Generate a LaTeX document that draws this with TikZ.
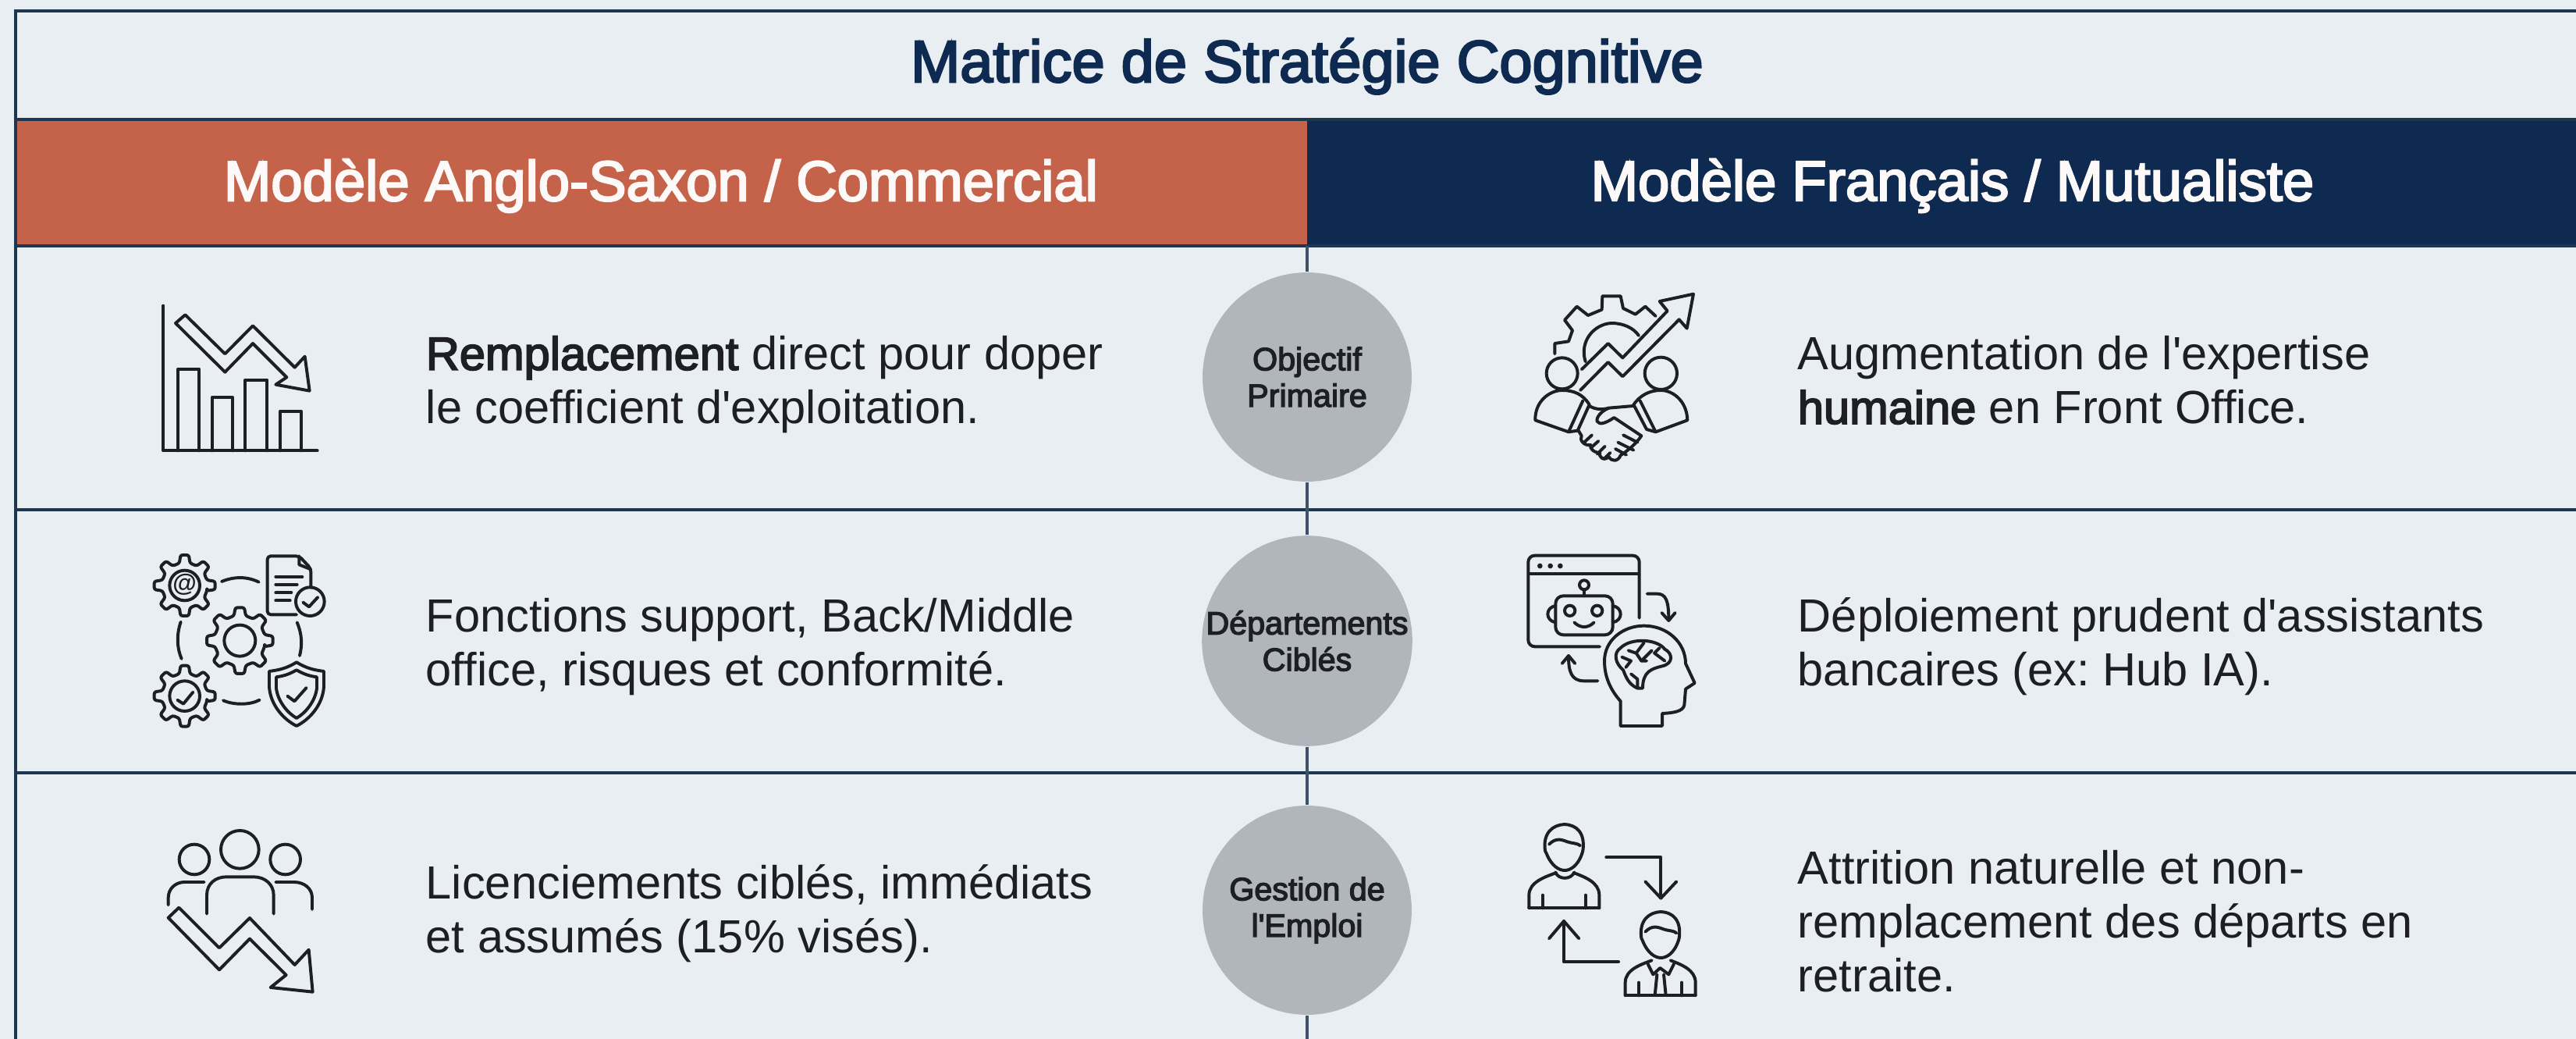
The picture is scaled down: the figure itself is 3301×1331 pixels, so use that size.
\documentclass[tikz,border=0pt]{standalone}
\usepackage{fontspec}
\setmainfont{Liberation Sans}
\newfontfamily\semib[FakeBold=3.2]{Liberation Sans}
\newfontfamily\medb[FakeBold=3]{Liberation Sans}
\definecolor{bgc}{HTML}{E9EEF2}
\definecolor{navy}{HTML}{0E2A50}
\definecolor{rust}{HTML}{C4634A}
\definecolor{rulec}{HTML}{1F3650}
\definecolor{disc}{HTML}{B1B6BC}
\definecolor{ink}{HTML}{1D1F22}
\tikzset{
  framerule/.style={draw=rulec,line width=0.85pt},
  rowrule/.style={draw=rulec,line width=0.75pt},
  spine/.style={draw=rulec!85!bgc,line width=0.95pt},
  titletext/.style={font=\fontsize{18.2}{20}\selectfont\semib,text=navy,inner sep=0pt},
  headtext/.style={font=\fontsize{17.4}{20}\selectfont\semib,text=white!96!rust,inner sep=0pt},
  bodytext/.style={font=\fontsize{14.3}{16.6}\selectfont\frenchspacing,text=ink,inner sep=0pt,anchor=west,align=left},
  discnode/.style={circle,fill=disc,minimum size=64.3pt,inner sep=0pt,align=center,text=ink,font=\fontsize{9.9}{11.2}\selectfont\semib},
  iconline/.style={draw=ink,line width=0.95pt,line join=round,line cap=round},
  iconzone/.style={shift={#1},x=0.08pt,y=-0.08pt}
}
\newcommand{\gearshape}[5]{%
  \pgfmathsetmacro{\gst}{360/#5}%
  \draw[iconline,rounded corners=0.6pt,shift={(#1,#2)}] ({.3*\gst}:#4)
    \foreach \i in {1,...,#5}{ -- ({(\i-.3)*\gst}:#4) -- ({(\i-.17)*\gst}:#3) -- ({(\i+.17)*\gst}:#3) -- ({(\i+.3)*\gst}:#4)} -- cycle;}
\newcommand{\headbust}[2]{%
  \begin{scope}[shift={(#1,#2)}]
  \draw[iconline] (150,150) .. controls (140,80) and (180,50) .. (225,48) .. controls (270,50) and (305,80) .. (295,150);
  \draw[iconline] (165,125) .. controls (190,100) and (210,105) .. (235,115) .. controls (255,122) and (275,120) .. (285,130);
  \draw[iconline] (155,160) .. controls (175,210) and (205,225) .. (225,225) .. controls (245,225) and (275,210) .. (292,160);
  \draw[iconline] (150,150) -- (155,160) (295,150) -- (292,160);
  \draw[iconline] (88,370) -- (88,320) .. controls (88,270) and (150,250) .. (190,235);
  \draw[iconline] (262,235) .. controls (300,250) and (358,270) .. (358,320) -- (358,370);
  \draw[iconline] (88,370) -- (358,370) (140,320) -- (140,370) (305,320) -- (305,370);
  \end{scope}}
\begin{document}
\begin{tikzpicture}[x=0.24pt,y=-0.24pt]
\useasboundingbox (0,0) rectangle (3301,1331);
\fill[bgc] (0,0) rectangle (3301,1331);
% headers
\fill[rust] (20,153) rectangle (1675,315);
\fill[navy] (1675,153) rectangle (3301,315);
% frame
\draw[framerule] (3301,14) -- (20,14) -- (20,1331);
\draw[framerule] (20,153) -- (3301,153);
\draw[framerule] (20,315) -- (3301,315);
\draw[rowrule] (20,653) -- (3301,653);
\draw[rowrule] (20,990) -- (3301,990);
% title and headers
\node[titletext] (title) at (1675,85) {Matrice de Stratégie Cognitive};
\node[headtext] (headL) at (847,238) {Modèle Anglo-Saxon / Commercial};
\node[headtext] (headR) at (2502,238) {Modèle Français / Mutualiste};
% centre discs and spine
\coordinate (spinetop) at (1675,315);
\coordinate (spinebot) at (1675,1331);
\node[discnode] (d1) at (1675,483) {Objectif\\Primaire};
\node[discnode] (d2) at (1675,821) {Départements\\Ciblés};
\node[discnode] (d3) at (1675,1166) {Gestion de\\l\textquotesingle Emploi};
\draw[spine] (spinetop) -- (d1);
\draw[spine] (d1) -- (d2);
\draw[spine] (d2) -- (d3);
\draw[spine] (d3) -- (spinebot);
% body text
\node[bodytext] (t1l) at (545,493) {{\medb Remplacement} direct pour doper\\le coefficient d\textquotesingle exploitation.};
\node[bodytext] (t2l) at (545,829) {Fonctions support, Back/Middle\\office, risques et conformité.};
\node[bodytext] (t3l) at (545,1170) {Licenciements ciblés, immédiats\\et assumés (15\% visés).};
\node[bodytext] (t1r) at (2303,487) {Augmentation de l\textquotesingle expertise\\{\medb humaine} en Front Office.};
\node[bodytext] (t2r) at (2303,828) {Déploiement prudent d\textquotesingle assistants\\bancaires (ex: Hub IA).};
\node[bodytext] (t3r) at (2303,1180) {Attrition naturelle et non-\\remplacement des départs en\\retraite.};
% icon 1: falling bars
\begin{scope}[iconzone={(150,340)}]
\draw[iconline] (178,155) -- (178,712) -- (770,712);
\draw[iconline] (235,712) -- (235,398) -- (315,398) -- (315,712);
\draw[iconline] (365,712) -- (365,508) -- (445,508) -- (445,712);
\draw[iconline] (493,712) -- (493,440) -- (577,440) -- (577,712);
\draw[iconline] (627,712) -- (627,560) -- (707,560) -- (707,712);
\draw[iconline] (225,222) -- (262,190) -- (415,340) -- (522,232) -- (683,392) -- (722,350) -- (740,482) -- (610,458) -- (652,430) -- (522,300) -- (415,410) -- cycle;
\end{scope}
% icon 2: gears, document, shield
\begin{scope}[iconzone={(150,680)}]
\gearshape{260}{210}{118}{88}{8}
\gearshape{472}{422}{128}{98}{8}
\gearshape{260}{635}{118}{88}{8}
\draw[iconline] (260,210) circle (58);
\draw[iconline] (472,422) circle (60);
\draw[iconline] (260,635) circle (58);
\node[font=\fontsize{7.5}{8}\selectfont\bfseries,text=ink,inner sep=0pt] (at) at (260,208) {@};
\draw[iconline] (232,650) -- (255,665) -- (292,620);
\draw[iconline] (402,195) .. controls (450,175) and (500,175) .. (545,197);
\draw[iconline] (245,350) .. controls (228,400) and (230,450) .. (248,492);
\draw[iconline] (692,352) .. controls (712,400) and (712,440) .. (702,480);
\draw[iconline] (408,652) .. controls (450,670) and (510,670) .. (548,650);
\draw[iconline,rounded corners=1pt] (690,322) -- (578,322) -- (578,97) -- (700,97) -- (745,145) -- (745,218);
\draw[iconline] (700,97) -- (700,130) -- (745,148);
\draw[iconline] (610,177) -- (712,177) (610,207) -- (692,207) (610,238) -- (670,238) (610,268) -- (665,268);
\draw[iconline] (742,272) circle (55);
\draw[iconline] (715,275) -- (738,292) -- (772,255);
\draw[iconline] (690,505) .. controls (650,530) and (620,535) .. (585,540) -- (585,600) .. controls (590,670) and (640,725) .. (690,750) .. controls (740,725) and (790,670) .. (795,600) -- (795,540) .. controls (760,535) and (730,530) .. (690,505) -- cycle;
\draw[iconline] (690,535) .. controls (660,552) and (640,558) .. (612,562) -- (612,605) .. controls (618,655) and (655,700) .. (690,720) .. controls (725,700) and (762,655) .. (768,605) -- (768,562) .. controls (740,558) and (720,552) .. (690,535) -- cycle;
\draw[iconline] (655,635) -- (682,655) -- (728,603);
\end{scope}
% icon 3: staff and falling arrow
\begin{scope}[iconzone={(150,1030)}]
\draw[iconline] (472,175) circle (73);
\draw[iconline] (297,213) circle (58);
\draw[iconline] (647,213) circle (58);
\draw[iconline] (345,422) -- (345,350) .. controls (345,305) and (380,280) .. (420,280) -- (525,280) .. controls (570,280) and (602,310) .. (602,350) -- (602,422);
\draw[iconline] (197,388) -- (197,360) .. controls (197,325) and (225,300) .. (260,300) -- (335,300);
\draw[iconline] (610,300) -- (680,300) .. controls (720,300) and (750,325) .. (750,360) -- (750,405);
\draw[iconline] (197,437) -- (238,398) -- (393,553) -- (510,438) -- (683,618) -- (737,560) -- (752,722) -- (590,705) -- (650,657) -- (510,518) -- (393,637) -- cycle;
\end{scope}
% icon 4: handshake, gear and rising arrow
\begin{scope}[iconzone={(1930,350)}]
\draw[iconline] (187,310) -- (187,270) -- (240,262) -- (255,220) -- (225,180) -- (272,128) -- (315,162) -- (368,140) -- (370,88) -- (440,88) -- (450,135) -- (497,158) -- (535,128) -- (575,165);
\draw[iconline] (305,340) .. controls (280,260) and (340,195) .. (405,192) .. controls (450,192) and (490,210) .. (510,240);
\draw[iconline] (290,370) -- (392,270) -- (448,325) -- (620,145) -- (590,108) -- (720,80) -- (695,212) -- (665,178) -- (448,397) -- (392,342) -- (285,450);
\draw[iconline] (215,385) circle (60);
\draw[iconline] (595,385) circle (62);
\draw[iconline] (240,610) -- (112,565) .. controls (110,490) and (170,450) .. (215,450) .. controls (260,450) and (295,465) .. (320,505) -- (275,605) -- (240,610);
\draw[iconline] (240,610) -- (295,490);
\draw[iconline] (575,610) -- (697,565) .. controls (695,490) and (640,450) .. (595,450) .. controls (550,450) and (515,470) .. (490,505) -- (540,600) -- (575,610);
\draw[iconline] (575,610) -- (515,490);
\draw[iconline] (320,510) .. controls (345,525) and (370,525) .. (395,518) -- (490,510);
\draw[iconline] (395,518) .. controls (365,530) and (345,555) .. (350,570) .. controls (360,585) and (385,575) .. (415,555) -- (520,625) .. controls (500,655) and (470,680) .. (440,700) .. controls (430,725) and (405,725) .. (395,705) .. controls (375,725) and (355,705) .. (360,690) .. controls (335,690) and (320,670) .. (325,660) .. controls (300,665) and (280,640) .. (290,625) -- (278,605);
\draw[iconline] (300,650) -- (330,622) (325,672) -- (355,645) (350,695) -- (380,665) (375,715) -- (400,690);
\draw[iconline] (450,622) -- (505,650) (430,650) -- (490,680) (420,675) -- (462,698);
\end{scope}
% icon 5: robot window and brain
\begin{scope}[iconzone={(1930,690)}]
\draw[iconline,rounded corners=2pt] (512,305) -- (512,65) -- (85,65) -- (85,415) -- (360,415);
\draw[iconline] (88,135) -- (510,135);
\fill[ink] (130,105) circle (10) (170,105) circle (10) (208,105) circle (10);
\draw[iconline,rounded corners=2.4pt] (190,220) rectangle (410,370);
\draw[iconline] (300,220) -- (300,196);
\draw[iconline] (300,178) circle (18);
\draw[iconline] (190,258) .. controls (150,265) and (150,315) .. (190,322);
\draw[iconline] (410,258) .. controls (450,265) and (450,315) .. (410,322);
\draw[iconline] (245,277) circle (20);
\draw[iconline] (350,277) circle (20);
\draw[iconline] (262,322) .. controls (285,345) and (315,345) .. (338,322);
\draw[iconline] (542,212) -- (580,212) .. controls (615,212) and (625,240) .. (625,312);
\draw[iconline] (598,285) -- (625,315) -- (650,285);
\draw[iconline] (352,547) -- (300,547) .. controls (250,547) and (240,510) .. (240,452);
\draw[iconline] (215,480) -- (240,450) -- (265,480);
\draw[iconline] (440,720) -- (440,625) .. controls (400,580) and (378,530) .. (378,470) .. controls (378,390) and (450,335) .. (530,335) .. controls (620,335) and (690,400) .. (690,480) -- (725,555) -- (690,578) -- (685,640) .. controls (680,665) and (640,670) .. (600,672) -- (600,720) -- cycle;
\draw[iconline] (505,575) .. controls (470,560) and (460,530) .. (450,505) .. controls (420,480) and (410,440) .. (440,420) .. controls (480,380) and (580,385) .. (610,425) .. controls (640,440) and (645,480) .. (600,490) .. controls (560,500) and (525,510) .. (525,575) -- cycle;
\draw[iconline] (470,430) -- (500,440) -- (530,400) (500,440) -- (520,470) -- (560,430) (590,420) -- (570,440) -- (610,470) (445,455) -- (480,470) -- (460,495) (520,470) -- (540,470) (480,520) -- (505,540) -- (505,570);
\end{scope}
% icon 6: succession of people
\begin{scope}[iconzone={(1930,1040)}]
\headbust{0}{0}
\draw[iconline] (190,232) .. controls (200,262) and (250,262) .. (262,232);
\headbust{370}{336}
\draw[iconline] (545,585) -- (565,625) -- (592,600) -- (625,625) -- (645,585);
\draw[iconline] (580,625) -- (572,705) (606,625) -- (614,705);
\draw[iconline] (385,175) -- (595,175) -- (595,330);
\draw[iconline] (535,268) -- (595,332) -- (655,268);
\draw[iconline] (432,577) -- (222,577) -- (222,420);
\draw[iconline] (165,487) -- (222,420) -- (280,487);
\end{scope}
\end{tikzpicture}
\end{document}
